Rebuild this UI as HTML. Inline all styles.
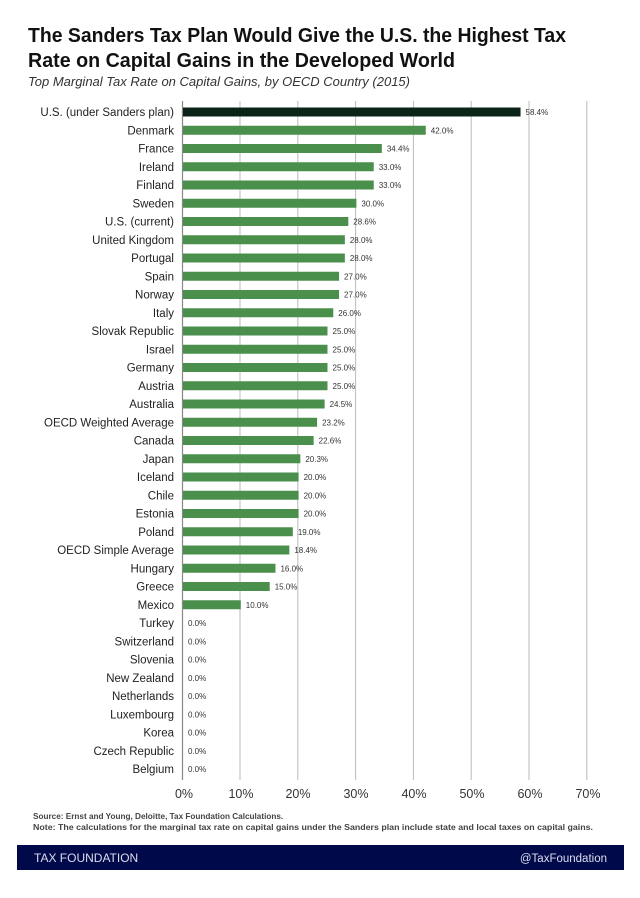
<!DOCTYPE html>
<html><head><meta charset="utf-8"><style>
body{margin:0;background:#fff;}
svg text{font-family:"Liberation Sans",sans-serif;}
</style></head><body>
<svg width="640" height="893" viewBox="0 0 640 893" xmlns="http://www.w3.org/2000/svg">
<rect width="640" height="893" fill="#fff"/>
<text x="28" y="42" font-size="20" font-weight="bold" fill="#111" textLength="538" lengthAdjust="spacingAndGlyphs">The Sanders Tax Plan Would Give the U.S. the Highest Tax</text>
<text x="28" y="67" font-size="20" font-weight="bold" fill="#111" textLength="427" lengthAdjust="spacingAndGlyphs">Rate on Capital Gains in the Developed World</text>
<text x="28" y="86" font-size="13" font-style="italic" fill="#333" textLength="382" lengthAdjust="spacingAndGlyphs">Top Marginal Tax Rate on Capital Gains, by OECD Country (2015)</text>
<g stroke="#bbb" stroke-width="1">
<line x1="240" y1="101" x2="240" y2="780"/><line x1="297.8" y1="101" x2="297.8" y2="780"/><line x1="355.6" y1="101" x2="355.6" y2="780"/><line x1="413.4" y1="101" x2="413.4" y2="780"/><line x1="471.2" y1="101" x2="471.2" y2="780"/><line x1="529" y1="101" x2="529" y2="780"/><line x1="586.8" y1="101" x2="586.8" y2="780"/>
</g>
<line x1="182.5" y1="101" x2="182.5" y2="780" stroke="#888" stroke-width="1.2"/>
<g id="bars"></g>
<g font-size="12.5" fill="#333" text-anchor="middle">
<text x="184" y="798">0%</text><text x="241" y="798">10%</text><text x="298" y="798">20%</text><text x="356" y="798">30%</text><text x="414" y="798">40%</text><text x="472" y="798">50%</text><text x="530" y="798">60%</text><text x="588" y="798">70%</text>
</g>
<text x="33" y="819" font-size="8.2" font-weight="bold" fill="#444">Source: Ernst and Young, Deloitte, Tax Foundation Calculations.</text>
<text x="33" y="830" font-size="8.2" font-weight="bold" fill="#444" textLength="560" lengthAdjust="spacingAndGlyphs">Note: The calculations for the marginal tax rate on capital gains under the Sanders plan include state and local taxes on capital gains.</text>
<rect x="17" y="845" width="607" height="25" fill="#000a4a"/>
<text x="34" y="862" font-size="12" fill="#dde" >TAX FOUNDATION</text>
<text x="607" y="862" font-size="11.5" fill="#dde" text-anchor="end">@TaxFoundation</text>
</svg>
<script>
var d=[["U.S. (under Sanders plan)",58.4],["Denmark",42],["France",34.4],["Ireland",33],["Finland",33],["Sweden",30],["U.S. (current)",28.6],["United Kingdom",28],["Portugal",28],["Spain",27],["Norway",27],["Italy",26],["Slovak Republic",25],["Israel",25],["Germany",25],["Austria",25],["Australia",24.5],["OECD Weighted Average",23.2],["Canada",22.6],["Japan",20.3],["Iceland",20],["Chile",20],["Estonia",20],["Poland",19],["OECD Simple Average",18.4],["Hungary",16],["Greece",15],["Mexico",10],["Turkey",0],["Switzerland",0],["Slovenia",0],["New Zealand",0],["Netherlands",0],["Luxembourg",0],["Korea",0],["Czech Republic",0],["Belgium",0]];
var g=document.getElementById("bars"),s="";
d.forEach(function(r,i){var y=112+i*18.25,w=r[1]*5.78;
s+='<text x="174" y="'+(y+4)+'" font-size="11.5" fill="#222" text-anchor="end">'+r[0]+'</text>';
if(w>0)s+='<rect x="183" y="'+(y-4.5)+'" width="'+w+'" height="9" fill="'+(i==0?'#0b2418':'#4a8f4c')+'"/>';
s+='<text x="'+(183+w+5)+'" y="'+(y+3)+'" font-size="8" fill="#333">'+r[1].toFixed(1)+'%</text>';});
g.innerHTML=s;
</script>
</body></html>
